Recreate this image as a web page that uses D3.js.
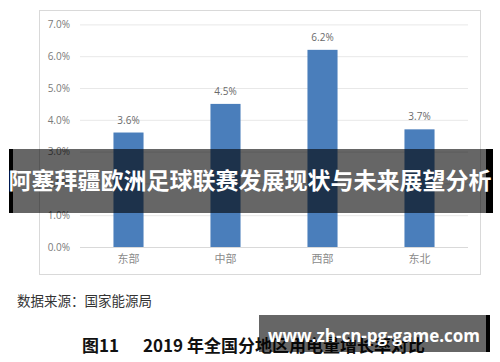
<!DOCTYPE html>
<html>
<head>
<meta charset="utf-8">
<script src="https://cdn.jsdelivr.net/npm/d3@7"></script>
<style>
  html, body { margin: 0; padding: 0; background: #fff; }
  svg { display: block; }
</style>
</head>
<body>
<script>
const categories = ["东部", "中部", "西部", "东北"];
const values = [3.6, 4.5, 6.2, 3.7];
const yTicks = [0, 1, 2, 3, 4, 5, 6, 7];
const sourceText = "数据来源：国家能源局";
const figLabel = "图11";
const figTitle = "2019 年全国分地区用电量增长率对比";
const bannerText = "阿塞拜疆欧洲足球联赛发展现状与未来展望分析";
const watermarkText = "www.zh-cn-pg-game.com";

const W = 500, H = 362;
const svg = d3.select("body").append("svg").attr("width", W).attr("height", H);
const cjk = "'Noto Sans CJK SC', 'Noto Sans', sans-serif";
const num = "'Open Sans', 'Noto Sans', sans-serif";

// chart frame
svg.append("rect").attr("x", 39.5).attr("y", 10.5).attr("width", 441).attr("height", 264)
  .attr("fill", "#fff").attr("stroke", "#d9d9d9").attr("stroke-width", 1);

const x = d3.scaleBand().domain(categories).range([80, 468])
  .paddingInner(0.69).paddingOuter(0.345);
const y = d3.scaleLinear().domain([0, 7]).range([247, 24.4]);

// y axis with gridlines
const yAxis = d3.axisLeft(y).tickValues(yTicks)
  .tickFormat(d => d.toFixed(1) + "%").tickSize(-388).tickPadding(10);
const gy = svg.append("g").attr("transform", "translate(80,0)").call(yAxis);
gy.select(".domain").remove();
gy.selectAll(".tick line").attr("stroke", d => d === 0 ? "#d9d9d9" : "#e8e8e8");
gy.selectAll(".tick text").attr("fill", "#7a7a7a").style("font-family", num).style("font-size", "10px");

// bars
svg.append("g").selectAll("rect").data(values).join("rect")
  .attr("x", (d, i) => x(categories[i]))
  .attr("y", d => y(d))
  .attr("width", x.bandwidth())
  .attr("height", d => y(0) - y(d))
  .attr("fill", "#4a7ebb");

// value labels
svg.append("g").selectAll("text").data(values).join("text")
  .attr("x", (d, i) => x(categories[i]) + x.bandwidth() / 2)
  .attr("y", d => y(d) - 9)
  .attr("text-anchor", "middle")
  .attr("fill", "#6a6a6a")
  .style("font-family", num).style("font-size", "10px")
  .text(d => d.toFixed(1) + "%");

// x axis labels
const xAxis = d3.axisBottom(x).tickSize(0).tickPadding(8);
const gx = svg.append("g").attr("transform", "translate(0,247)").call(xAxis);
gx.select(".domain").remove();
gx.selectAll(".tick text").attr("fill", "#8a8a8a").style("font-family", cjk).style("font-size", "11px");

// source
svg.append("text").attr("x", 17).attr("y", 306)
  .attr("fill", "#333").style("font-family", cjk).style("font-size", "13.5px")
  .text(sourceText);

// figure caption
svg.append("text").attr("x", 82).attr("y", 352)
  .attr("fill", "#111").style("font-family", cjk).style("font-size", "17px").style("font-weight", "bold")
  .text(figLabel);
svg.append("text").attr("x", 143).attr("y", 352)
  .attr("fill", "#111").style("font-family", cjk).style("font-size", "17px").style("font-weight", "bold")
  .text(figTitle);

// banner overlay
svg.append("rect").attr("x", 9).attr("y", 149).attr("width", 484).attr("height", 64)
  .attr("fill", "#000").attr("fill-opacity", 0.6);
svg.append("rect").attr("x", 9).attr("y", 149).attr("width", 4).attr("height", 64).attr("fill", "#000");
svg.append("rect").attr("x", 486).attr("y", 149).attr("width", 7).attr("height", 64).attr("fill", "#000");
svg.append("text").attr("x", 250).attr("y", 189)
  .attr("text-anchor", "middle").attr("fill", "#fff")
  .style("font-family", cjk).style("font-size", "23px").style("font-weight", "bold")
  .text(bannerText);

// watermark
svg.append("rect").attr("x", 259).attr("y", 315).attr("width", 231).attr("height", 37)
  .attr("fill", "#000").attr("fill-opacity", 0.6);
svg.append("rect").attr("x", 486).attr("y", 315).attr("width", 4).attr("height", 37).attr("fill", "#000");
svg.append("text").attr("x", 374).attr("y", 342)
  .attr("text-anchor", "middle").attr("fill", "#fff")
  .style("font-family", num).style("font-size", "17px").style("font-weight", "bold")
  .text(watermarkText);
</script>
</body>
</html>
